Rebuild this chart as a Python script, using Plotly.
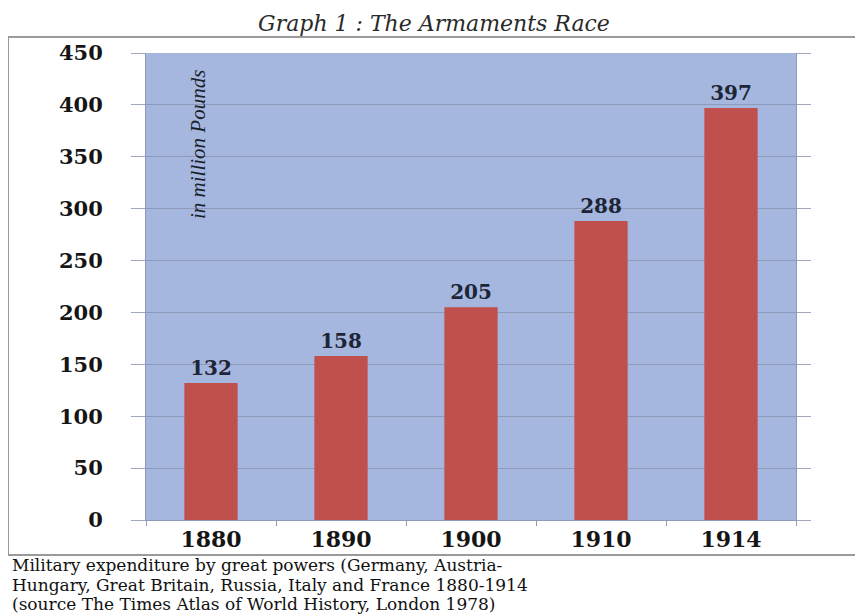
import plotly.graph_objects as go

years = ["1880", "1890", "1900", "1910", "1914"]
spending = [132, 158, 205, 288, 397]
y_ticks = [0, 50, 100, 150, 200, 250, 300, 350, 400, 450]
title_text = "Graph 1 : The Armaments Race"
unit_text = "in million Pounds"
caption_lines = [
    "Military expenditure by great powers (Germany, Austria-",
    "Hungary, Great Britain, Russia, Italy and France 1880-1914",
    "(source The Times Atlas of World History, London 1978)",
]

OFF = 8  # page body margin
W, H = 863 - OFF, 616 - OFF
# target plot area in window pixels: x 146..796, y 53..520
L = 146 - OFF
T = 53 - OFF
R = W - (796 - OFF)
B = H - (520 - OFF)
PW, PH = W - L - R, H - T - B

def px_x(px):
    return (px - OFF - L) / PW

def px_y(py):
    return ((H - B) - (py - OFF)) / PH

fig = go.Figure()
fig.add_trace(go.Bar(
    x=years, y=spending,
    marker=dict(color="#c0504d", line=dict(width=0)),
    text=[str(v) for v in spending],
    textposition="outside",
    textfont=dict(family="DejaVu Serif", size=20, color="#1d2536", weight="bold"),
    cliponaxis=False,
))

annotations = [
    dict(text=unit_text, xref="paper", yref="paper", x=px_x(198), y=px_y(145),
         xanchor="center", yanchor="middle",
         textangle=-90, showarrow=False,
         font=dict(family="Liberation Serif", size=21, style="italic", color="#1a1f2b")),
]
for i, line in enumerate(caption_lines):
    annotations.append(dict(
        text=line, xref="paper", yref="paper", x=px_x(10), y=px_y(565 + 19.5 * i),
        xanchor="left", yanchor="middle", showarrow=False,
        font=dict(family="DejaVu Serif", size=17, color="#111111")))

fig.update_layout(
    width=W, height=H,
    margin=dict(l=L, r=R, t=T, b=B),
    paper_bgcolor="white",
    plot_bgcolor="#a5b7de",
    showlegend=False,
    bargap=0.59,
    title=dict(text=title_text, x=(434 - OFF) / W, xanchor="center", xref="container",
               y=1 - (23 - OFF) / H, yanchor="middle", yref="container",
               font=dict(family="DejaVu Serif", size=22, style="italic", color="#2a2a2a")),
    annotations=annotations,
    shapes=[dict(type="rect", xref="paper", yref="paper",
                 x0=px_x(8), x1=px_x(880), y0=px_y(555), y1=px_y(37),
                 line=dict(color="#9a9a9a", width=2), layer="below")],
)
fig.update_yaxes(
    range=[0, 450], tickvals=y_ticks, ticktext=[str(v) for v in y_ticks],
    showgrid=True, gridcolor="#8d9aba", gridwidth=1,
    ticks="outside", ticklen=14, tickcolor="#a0a8bd",
    showline=True, linecolor="#8d9aba", linewidth=1, mirror="ticks",
    ticklabelstandoff=24, zeroline=False,
    tickfont=dict(family="DejaVu Serif", size=21, color="#151515", weight="bold"),
)
fig.update_xaxes(
    showgrid=False, ticks="outside", ticklen=5, tickcolor="#8d9aba",
    tickson="boundaries", showline=True, linecolor="#8d9aba", linewidth=1,
    tickfont=dict(family="DejaVu Serif", size=22, color="#151515", weight="bold"),
)

fig.write_html("out.html")
